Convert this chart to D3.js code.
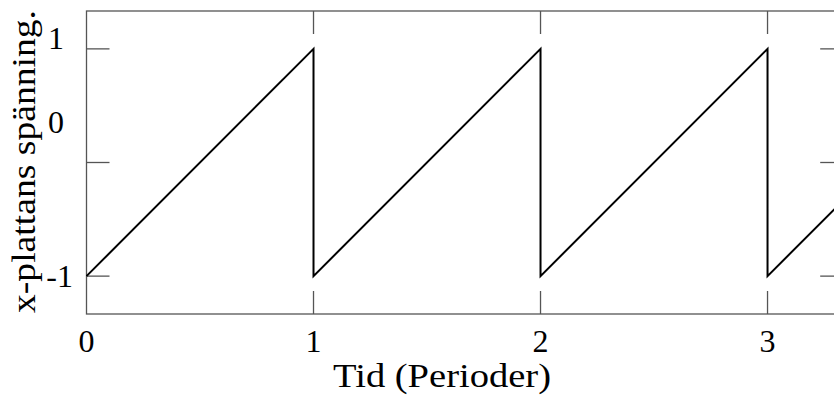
<!DOCTYPE html>
<html>
<head>
<meta charset="utf-8">
<script src="https://cdn.jsdelivr.net/npm/d3@7"></script>
<style>
  html, body { margin: 0; padding: 0; background: #fff; }
  svg { display: block; }
  text { font-family: "Liberation Serif", "Times New Roman", serif; fill: #000; }
</style>
</head>
<body>
<svg id="chart" width="834" height="398"></svg>
<script>
// Sawtooth sweep voltage on the x-plate, one ramp per period
const time    = [0, 1, 1, 2, 2, 3, 3, 3.3333];
const voltage = [-1, 1, -1, 1, -1, 1, -1, -0.3333];

const xTicks = [0, 1, 2, 3];
const xTickLabels = ["0", "1", "2", "3"];
const yTicks = [-1, 0, 1];
const yTickLabels = ["-1", "0", "1"];

const xTitle = "Tid (Perioder)";
const yTitle = "x-plattans spänning.";

const svg = d3.select("#chart");
const frame = { left: 86.5, right: 843.2, top: 11, bottom: 314 };

const x = d3.scaleLinear().domain([0, 10 / 3]).range([frame.left, frame.right]);
const y = d3.scaleLinear().domain([-4 / 3, 4 / 3]).range([frame.bottom, frame.top]);

const tickLen = 23;
const fontSize = 32;

// Plot frame
svg.append("rect")
  .attr("x", frame.left).attr("y", frame.top)
  .attr("width", frame.right - frame.left).attr("height", frame.bottom - frame.top)
  .attr("fill", "none").attr("stroke", "#555").attr("stroke-width", 1.3);

// Inward ticks on all four sides
const tickG = svg.append("g").attr("stroke", "#555").attr("stroke-width", 1.3);
xTicks.filter(v => v > 0).forEach(v => {
  tickG.append("line").attr("x1", x(v)).attr("x2", x(v))
    .attr("y1", frame.bottom).attr("y2", frame.bottom - tickLen);
  tickG.append("line").attr("x1", x(v)).attr("x2", x(v))
    .attr("y1", frame.top).attr("y2", frame.top + tickLen);
});
yTicks.forEach(v => {
  tickG.append("line").attr("x1", frame.left).attr("x2", frame.left + tickLen)
    .attr("y1", y(v)).attr("y2", y(v));
  tickG.append("line").attr("x1", frame.right).attr("x2", frame.right - tickLen)
    .attr("y1", y(v)).attr("y2", y(v));
});

// Tick labels
xTicks.forEach((v, i) => {
  svg.append("text")
    .attr("x", x(v)).attr("y", 352)
    .attr("text-anchor", "middle")
    .attr("font-size", fontSize)
    .text(xTickLabels[i]);
});

// The upper y labels sit a little above their tick marks
const yLabelPlacement = { "-1": { dx: 73, dy: 0 }, "0": { dx: 64, dy: -40 }, "1": { dx: 64, dy: -10 } };
yTicks.forEach((v, i) => {
  const lab = yTickLabels[i];
  const p = yLabelPlacement[lab];
  svg.append("text")
    .attr("x", p.dx).attr("y", y(v) + p.dy)
    .attr("dy", "0.33em")
    .attr("text-anchor", "end")
    .attr("font-size", fontSize)
    .text(lab);
});

// Axis titles, widened slightly toward the roomier serif proportions
svg.append("text")
  .attr("x", 442).attr("y", 387)
  .attr("text-anchor", "middle")
  .attr("font-size", 33)
  .attr("textLength", 218)
  .attr("lengthAdjust", "spacingAndGlyphs")
  .text(xTitle);

svg.append("text")
  .attr("transform", `translate(35, ${y(0) - 1}) rotate(-90)`)
  .attr("text-anchor", "middle")
  .attr("font-size", 33)
  .attr("textLength", 303)
  .attr("lengthAdjust", "spacingAndGlyphs")
  .text(yTitle);

// Sawtooth curve
const line = d3.line().x((d, i) => x(time[i])).y(d => y(d));
svg.append("path")
  .datum(voltage)
  .attr("d", line)
  .attr("fill", "none")
  .attr("stroke", "#000")
  .attr("stroke-width", 2)
  .attr("stroke-linejoin", "miter");
</script>
</body>
</html>
